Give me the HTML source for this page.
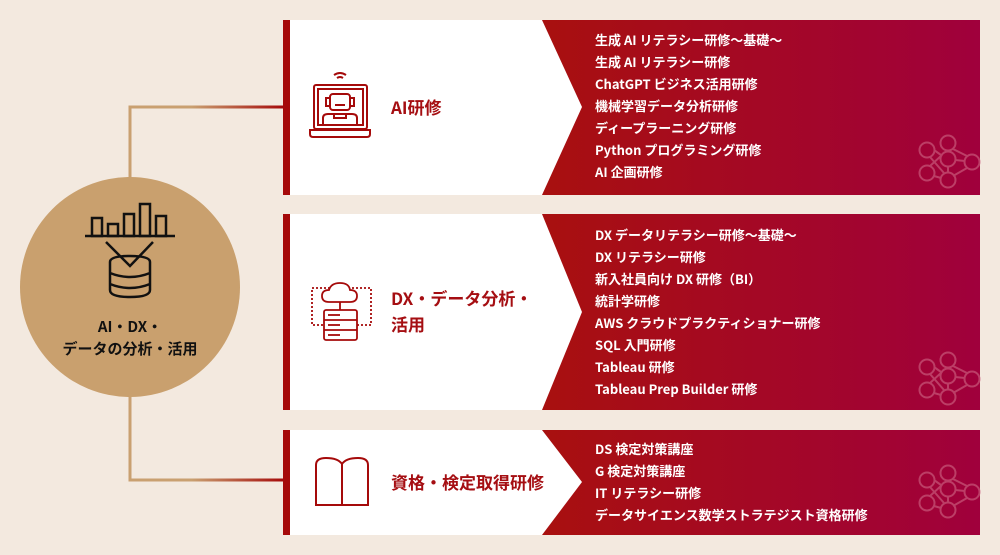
<!DOCTYPE html>
<html><head><meta charset="utf-8"><style>
body{margin:0;width:1000px;height:555px;background:#f3e9df;position:relative;overflow:hidden;font-family:"Noto Sans CJK JP","Liberation Sans",sans-serif;}
.row{position:absolute;left:283px;width:697px;}
.list{position:absolute;left:312px;color:#fff;font-weight:bold;font-size:13px;line-height:22px;white-space:nowrap;}
.title{position:absolute;left:108px;color:#a50e12;font-weight:bold;font-size:17px;line-height:26px;}
svg{position:absolute;left:0;top:0;}
</style></head><body>
<svg width="1000" height="555">
<defs>
<linearGradient id="rg" x1="0" x2="1"><stop offset="0" stop-color="#a8100f"/><stop offset="1" stop-color="#a0003c"/></linearGradient>
<linearGradient id="cg" x1="0" x2="1"><stop offset="0" stop-color="#c9a070"/><stop offset="0.4" stop-color="#c9a070"/><stop offset="1" stop-color="#a50a0a"/></linearGradient>
</defs>
<path d="M130 180 V107 H284" fill="none" stroke="url(#cg)" stroke-width="3"/>
<path d="M130 394 V480 H284" fill="none" stroke="url(#cg)" stroke-width="3"/>
<line x1="220" y1="311" x2="284" y2="311" stroke="url(#cg)" stroke-width="3"/>
<circle cx="130" cy="287" r="110" fill="#c9a06e"/>
<rect x="542" y="20" width="438" height="175" fill="url(#rg)"/>
<polygon points="283,20 542,20 582,107 542,195 283,195" fill="#fff"/>
<rect x="283" y="20" width="7" height="175" fill="#a50a0a"/>
<rect x="542" y="214" width="438" height="196" fill="url(#rg)"/>
<polygon points="283,214 542,214 582,312 542,410 283,410" fill="#fff"/>
<rect x="283" y="214" width="7" height="196" fill="#a50a0a"/>
<rect x="542" y="430" width="438" height="105" fill="url(#rg)"/>
<polygon points="283,430 542,430 582,482 542,535 283,535" fill="#fff"/>
<rect x="283" y="430" width="7" height="105" fill="#a50a0a"/>
<g fill="none" stroke="#111" stroke-width="2.5">
<line x1="85" y1="236" x2="175" y2="236"/>
<rect x="92" y="218" width="10" height="18"/><rect x="108" y="224" width="10" height="12"/><rect x="124" y="214" width="10" height="22"/><rect x="140" y="204" width="10" height="32"/><rect x="156" y="216" width="10" height="20"/>
<polyline points="106,242 130,266 153,242"/>
<path d="M110 262 Q110 256 130 256 Q150 256 150 262 V290 Q150 297 130 297 Q110 297 110 290 Z M110 273 Q130 281 150 273 M110 284 Q130 292 150 284"/>
</g>
<text x="130" y="332" font-size="15" font-weight="bold" text-anchor="middle" fill="#111">AI・DX・</text>
<text x="130" y="354" font-size="15" font-weight="bold" text-anchor="middle" fill="#111">データの分析・活用</text>
<g fill="none" stroke="#a50a0a" stroke-width="2">
<rect x="314" y="85" width="53" height="44" rx="2"/><rect x="318" y="89" width="45" height="36"/>
<path d="M310 130 H370 V134 Q370 137 367 137 H313 Q310 137 310 134 Z"/>
<path d="M334 75 Q340 71 346 75 M337 78 Q340 76 343 78"/>
<rect x="330" y="94" width="20" height="16" rx="3"/><rect x="326" y="98" width="4" height="8"/><rect x="350" y="98" width="4" height="8"/>
<line x1="335" y1="105" x2="345" y2="105"/>
<path d="M323 125 V118 Q323 114 328 114 H352 Q357 114 357 118 V125 M334 114 V118 H346 V114"/>
</g>
<g fill="none" stroke="#a50a0a" stroke-width="1.8">
<rect x="312" y="288" width="59" height="37" stroke-dasharray="2,2"/>
<path d="M329 302 Q322 302 322 296 Q322 290 329 290 Q331 283 340 283 Q349 283 350 290 Q357 290 357 296 Q357 302 350 302 Z" fill="#fff"/>
<line x1="340" y1="302" x2="340" y2="310"/>
<rect x="324" y="310" width="33" height="30" rx="2" fill="#fff"/>
<line x1="324" y1="320" x2="357" y2="320"/><line x1="324" y1="330" x2="357" y2="330"/>
<line x1="328" y1="315" x2="340" y2="315"/><line x1="328" y1="325" x2="340" y2="325"/><line x1="328" y1="335" x2="340" y2="335"/>
</g>
<g fill="none" stroke="#a50a0a" stroke-width="2">
<path d="M316 465 Q316 458 326 458 Q338 458 342 464 Q346 458 358 458 Q368 458 368 465 V505 H316 Z M342 464 V505"/>
</g>
<g fill="none" stroke="#c8587a" stroke-width="2" opacity="0.7">
<g id="net">
<circle cx="948" cy="143" r="7.5"/><circle cx="927" cy="150" r="7.5"/><circle cx="948" cy="159" r="7.5"/><circle cx="972" cy="162" r="7.5"/><circle cx="927" cy="173" r="7.5"/><circle cx="948" cy="180" r="7.5"/>
<path d="M934 150 L941 155 M948 151 V151.5 M955 160 L965 161 M930 166 L942 155 M930 157 L944 173 M953 149 L967 156 M967 168 L953 176 M934 176 L941 178 M948 166.5 V172.5"/>
</g>
<use href="#net" y="217"/><use href="#net" y="330"/>
</g>
</svg>
<div class="row" style="top:20px;height:175px">
<div class="title" style="top:74px">AI研修</div>
<div class="list" style="top:9px">生成 AI リテラシー研修～基礎～<br>生成 AI リテラシー研修<br>ChatGPT ビジネス活用研修<br>機械学習データ分析研修<br>ディープラーニング研修<br>Python プログラミング研修<br>AI 企画研修</div>
</div>
<div class="row" style="top:214px;height:196px">
<div class="title" style="top:71px">DX・データ分析・<br>活用</div>
<div class="list" style="top:10px">DX データリテラシー研修～基礎～<br>DX リテラシー研修<br>新入社員向け DX 研修（BI）<br>統計学研修<br>AWS クラウドプラクティショナー研修<br>SQL 入門研修<br>Tableau 研修<br>Tableau Prep Builder 研修</div>
</div>
<div class="row" style="top:430px;height:105px">
<div class="title" style="top:39px">資格・検定取得研修</div>
<div class="list" style="top:8px">DS 検定対策講座<br>G 検定対策講座<br>IT リテラシー研修<br>データサイエンス数学ストラテジスト資格研修</div>
</div>
</body></html>
